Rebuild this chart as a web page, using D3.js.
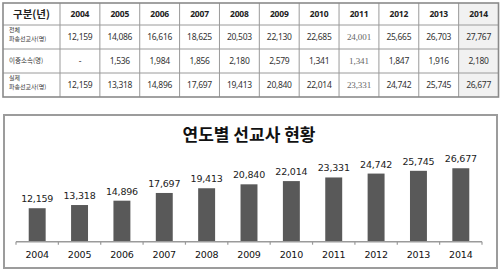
<!DOCTYPE html>
<html><head><meta charset="utf-8">
<script src="https://cdn.jsdelivr.net/npm/d3@7"></script>
<style>html,body{margin:0;padding:0;background:#fff;}svg{display:block;}</style>
</head><body>
<svg id="c" width="500" height="271"></svg>
<script>
const years = ["2004","2005","2006","2007","2008","2009","2010","2011","2012","2013","2014"];
const totalMissionaries = ["12,159","14,086","16,616","18,625","20,503","22,130","22,685","24,001","25,665","26,703","27,767"];
const dualAffiliation = ["-","1,536","1,984","1,856","2,180","2,579","1,341","1,341","1,847","1,916","2,180"];
const actualMissionaries = [12159,13318,14896,17697,19413,20840,22014,23331,24742,25745,26677];
const rowLabels = [["전체","파송선교사(명)"],["이중소속(명)"],["실제","파송선교사(명)"]];
const headerLabel = "구분(년)";
const chartTitle = "연도별 선교사 현황";

const svg = d3.select("#c");
const fmt = d3.format(",");

// ---------- Table ----------
const tX0 = 3, tX1 = 498.5, firstColW = 57;
const colX = d3.scaleBand().domain(years).range([tX0 + firstColW, tX1]);
const rowEdges = [3, 25, 49, 73, 97];
const g = svg.append("g");

g.append("rect").attr("x", colX("2014")).attr("y", rowEdges[0])
  .attr("width", colX.bandwidth()).attr("height", rowEdges[4]-rowEdges[0]).attr("fill", "#f1f1f1");

rowEdges.slice(1,4).forEach(y => g.append("line").attr("x1", tX0).attr("x2", tX1).attr("y1", y).attr("y2", y)
  .attr("stroke", "#9a9a9a").attr("stroke-width", 1));
years.forEach(yr => g.append("line").attr("x1", colX(yr)).attr("x2", colX(yr)).attr("y1", rowEdges[0]).attr("y2", rowEdges[4])
  .attr("stroke", "#9a9a9a").attr("stroke-width", 1));
g.append("rect").attr("x", tX0).attr("y", rowEdges[0]).attr("width", tX1 - tX0).attr("height", rowEdges[4]-rowEdges[0])
  .attr("fill", "none").attr("stroke", "#8a8a8a").attr("stroke-width", 1.6);

g.append("text").attr("x", tX0 + firstColW/2).attr("y", (rowEdges[0]+rowEdges[1])/2 + 4)
  .attr("text-anchor", "middle").attr("font-family", "'Noto Sans CJK KR'").attr("font-weight", 700)
  .attr("font-size", 10.5).attr("fill", "#222").text(headerLabel);
years.forEach(yr => g.append("text").attr("x", colX(yr) + colX.bandwidth()/2).attr("y", (rowEdges[0]+rowEdges[1])/2 + 3)
  .attr("text-anchor", "middle").attr("font-family", "'Noto Sans'").attr("font-weight", 700)
  .attr("font-size", 8.5).attr("letter-spacing", -0.2).attr("fill", "#222").text(yr));

rowLabels.forEach((lines, i) => {
  const cy = (rowEdges[i+1] + rowEdges[i+2]) / 2;
  if (lines.length === 1) {
    g.append("text").attr("font-family", "'Noto Sans CJK KR'").attr("font-size", 6.5).attr("fill", "#333")
      .attr("x", 9).attr("y", cy + 2.3).text(lines[0]);
  } else {
    g.append("text").attr("font-family", "'Noto Sans CJK KR'").attr("font-size", 6).attr("fill", "#333")
      .attr("x", 9).attr("y", cy - 4.6).text(lines[0]);
    g.append("text").attr("font-family", "'Noto Sans CJK KR'").attr("font-size", 6).attr("fill", "#333")
      .attr("x", 9).attr("y", cy + 4.4).text(lines[1]);
  }
});

const rowsVals = [totalMissionaries, dualAffiliation, actualMissionaries.map(fmt)];
rowsVals.forEach((vals, i) => {
  const cy = (rowEdges[i+1] + rowEdges[i+2]) / 2;
  vals.forEach((v, j) => {
    const yr = years[j];
    const special = yr === "2011";
    g.append("text").attr("x", colX(yr) + colX.bandwidth()/2).attr("y", cy + 3)
      .attr("text-anchor", "middle")
      .attr("font-family", special ? "'Liberation Serif'" : "'Noto Sans'")
      .attr("font-size", special ? 9 : 8.5).attr("letter-spacing", special ? -0.1 : -0.3)
      .attr("fill", special ? "#666" : "#333").text(v);
  });
});

// ---------- Chart ----------
svg.append("rect").attr("x", 4).attr("y", 115).attr("width", 493).attr("height", 153)
  .attr("fill", "#fff").attr("stroke", "#9c9c9c").attr("stroke-width", 2);

svg.append("text").attr("x", 249).attr("y", 141).attr("text-anchor", "middle")
  .attr("font-family", "'Noto Sans CJK KR'").attr("font-weight", 700).attr("font-size", 17)
  .attr("fill", "#111").text(chartTitle);

const x = d3.scaleBand().domain(years).range([16, 482]).paddingInner(0.6).paddingOuter(0.3);
const baseY = 241.7;
const y = d3.scaleLinear().domain([0, 30000]).range([baseY, baseY - 82.6]);

svg.append("g").selectAll("rect").data(actualMissionaries).join("rect")
  .attr("x", (d,i) => x(years[i])).attr("width", x.bandwidth())
  .attr("y", d => y(d)).attr("height", d => baseY - y(d)).attr("fill", "#595959");

svg.append("g").selectAll("text").data(actualMissionaries).join("text")
  .attr("x", (d,i) => x(years[i]) + x.bandwidth()/2).attr("y", d => y(d) - 6)
  .attr("text-anchor", "middle").attr("font-family", "'DejaVu Sans'").attr("font-size", 9.5)
  .attr("letter-spacing", -0.2).attr("fill", "#222").text(d => fmt(d));

const axisG = svg.append("g").attr("transform", `translate(0,${baseY})`);
axisG.append("line").attr("x1", 16).attr("x2", 482).attr("stroke", "#9a9a9a").attr("stroke-width", 1.5);
const edges = years.map(yr => x(yr) - x.step()*x.paddingInner()/2).concat([482]);
axisG.selectAll("line.tick").data(edges).join("line").attr("class", "tick")
  .attr("x1", d => d).attr("x2", d => d).attr("y1", 0).attr("y2", 3).attr("stroke", "#9a9a9a").attr("stroke-width", 1.2);
axisG.selectAll("text").data(years).join("text")
  .attr("x", d => x(d) + x.bandwidth()/2).attr("y", 16.5).attr("text-anchor", "middle")
  .attr("font-family", "'DejaVu Sans'").attr("font-size", 9.5).attr("letter-spacing", -0.2)
  .attr("fill", "#111").text(d => d);
</script>
</body></html>
